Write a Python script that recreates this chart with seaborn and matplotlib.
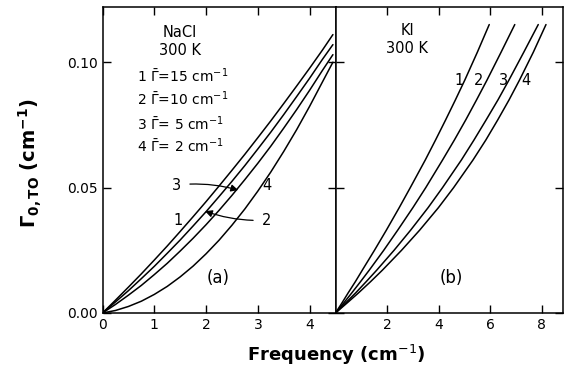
import pandas as pd
import matplotlib.pyplot as plt
import seaborn as sns

# NaCl panel (a): frequency grid and Gamma_0,TO for the four damping values
nacl_freq = [0, 0.25, 0.5, 0.75, 1.0, 1.25, 1.5, 1.75, 2.0, 2.25, 2.5,
             2.75, 3.0, 3.25, 3.5, 3.75, 4.0, 4.25, 4.45]
nacl_g15 = [0, 0.0051, 0.0103, 0.0156, 0.0211, 0.0267, 0.0325, 0.0384, 0.0444, 0.0506,
            0.0569, 0.0633, 0.0699, 0.0766, 0.0835, 0.0905, 0.0976, 0.1049, 0.111]
nacl_g10 = [0, 0.0044, 0.0089, 0.0137, 0.0186, 0.0238, 0.0291, 0.0347, 0.0404, 0.0464,
            0.0525, 0.0588, 0.0654, 0.0721, 0.0791, 0.0863, 0.0936, 0.1012, 0.107]
nacl_g5 = [0, 0.0034, 0.0071, 0.0110, 0.0153, 0.0198, 0.0247, 0.0298, 0.0352, 0.0409,
           0.0469, 0.0532, 0.0597, 0.0665, 0.0737, 0.0811, 0.0888, 0.0968, 0.103]
nacl_g2 = [0, 0.0010, 0.0026, 0.0047, 0.0074, 0.0106, 0.0144, 0.0187, 0.0236, 0.0290,
           0.0350, 0.0415, 0.0486, 0.0562, 0.0644, 0.0731, 0.0824, 0.0922, 0.100]

# KI panel (b): Gamma levels and the frequency where each curve reaches them
ki_gamma = [0, 0.004, 0.008, 0.0125, 0.0171, 0.025, 0.033, 0.042, 0.050,
            0.061, 0.069, 0.077, 0.085, 0.0928, 0.104, 0.115]
ki_f1 = [0, 0.25, 0.49, 0.77, 1.04, 1.51, 1.97, 2.47, 2.90,
         3.48, 3.88, 4.27, 4.65, 5.01, 5.50, 5.96]
ki_f2 = [0, 0.32, 0.63, 0.97, 1.31, 1.87, 2.41, 3.00, 3.50,
         4.15, 4.61, 5.05, 5.47, 5.87, 6.42, 6.95]
ki_f3 = [0, 0.39, 0.78, 1.19, 1.60, 2.27, 2.91, 3.59, 4.15,
         4.88, 5.37, 5.84, 6.30, 6.72, 7.30, 7.86]
ki_f4 = [0, 0.45, 0.89, 1.36, 1.82, 2.56, 3.26, 3.99, 4.58,
         5.33, 5.83, 6.29, 6.73, 7.13, 7.67, 8.16]

curve_ids = ['1', '2', '3', '4']

nacl = pd.concat([pd.DataFrame({'freq': nacl_freq, 'gamma': g, 'curve': c})
                  for c, g in zip(curve_ids, [nacl_g15, nacl_g10, nacl_g5, nacl_g2])])
ki = pd.concat([pd.DataFrame({'freq': f, 'gamma': ki_gamma, 'curve': c})
                for c, f in zip(curve_ids, [ki_f1, ki_f2, ki_f3, ki_f4])])

sns.set_style('ticks')
plt.rcParams['font.family'] = ['DejaVu Sans']
plt.rcParams['mathtext.fontset'] = 'dejavusans'
plt.rcParams['text.color'] = 'black'
plt.rcParams['xtick.color'] = 'black'
plt.rcParams['ytick.color'] = 'black'

fig = plt.figure(figsize=(5.64, 3.72), dpi=100)
ax1 = fig.add_axes([102.5 / 564, 59 / 372, 233 / 564, 306 / 372])
ax2 = fig.add_axes([335.5 / 564, 59 / 372, 227 / 564, 306 / 372])

black = {c: 'black' for c in curve_ids}
sns.lineplot(data=nacl, x='freq', y='gamma', hue='curve', palette=black,
             estimator=None, legend=False, lw=1.1, ax=ax1)
sns.lineplot(data=ki, x='freq', y='gamma', hue='curve', palette=black,
             estimator=None, legend=False, lw=1.1, sort=False, ax=ax2)

for ax in (ax1, ax2):
    ax.set_ylim(0, 0.122)
    ax.set_yticks([0, 0.05, 0.10])
    ax.tick_params(direction='in', length=6, width=1, top=True, right=True,
                   labelsize=10, color='black', labelcolor='black')
    for s in ax.spines.values():
        s.set_linewidth(1.1)
        s.set_color('black')
    ax.set_xlabel('')
    ax.set_ylabel('')

ax1.set_xlim(0, 4.5)
ax1.set_xticks([0, 1, 2, 3, 4])
ax1.set_yticklabels(['0.00', '0.05', '0.10'])
ax2.set_xlim(0, 8.8)
ax2.set_xticks([2, 4, 6, 8])
ax2.set_yticklabels([])

# panel (a) annotations
ax1.text(1.5, 0.112, 'NaCl', ha='center', va='center', fontsize=10.5)
ax1.text(1.5, 0.1048, '300 K', ha='center', va='center', fontsize=10.5)
leg_lines = [r'1 $\bar{\Gamma}$=15 cm$^{-1}$', r'2 $\bar{\Gamma}$=10 cm$^{-1}$',
             r'3 $\bar{\Gamma}$= 5 cm$^{-1}$', r'4 $\bar{\Gamma}$= 2 cm$^{-1}$']
for txt, yy in zip(leg_lines, [0.0945, 0.0852, 0.0755, 0.0665]):
    ax1.text(0.66, yy, txt, ha='left', va='center', fontsize=10)
ax1.annotate('3', xy=(2.62, 0.049), xytext=(1.43, 0.051), ha='center', va='center',
             fontsize=10.5, arrowprops=dict(arrowstyle='-|>', color='black', lw=0.9,
                                            shrinkA=4, shrinkB=0,
                                            connectionstyle='arc3,rad=-0.1'))
ax1.text(3.17, 0.051, '4', ha='center', va='center', fontsize=10.5)
ax1.text(1.46, 0.037, '1', ha='center', va='center', fontsize=10.5)
ax1.annotate('2', xy=(1.98, 0.0406), xytext=(3.17, 0.037), ha='center', va='center',
             fontsize=10.5, arrowprops=dict(arrowstyle='-|>', color='black', lw=0.9,
                                            shrinkA=4, shrinkB=0,
                                            connectionstyle='arc3,rad=-0.1'))
ax1.text(2.24, 0.0138, '(a)', ha='center', va='center', fontsize=12)

# panel (b) annotations
ax2.text(2.78, 0.1127, 'KI', ha='center', va='center', fontsize=10.5)
ax2.text(2.78, 0.1055, '300 K', ha='center', va='center', fontsize=10.5)
for lab, xx in zip(curve_ids, [4.78, 5.53, 6.5, 7.38]):
    ax2.text(xx, 0.0928, lab, ha='center', va='center', fontsize=10.5)
ax2.text(4.5, 0.0138, '(b)', ha='center', va='center', fontsize=12)

fig.text(336 / 564, 17 / 372, r'Frequency (cm$^{-1}$)', ha='center', va='center',
         fontsize=13, fontweight='bold')
fig.text(30 / 564, 209 / 372, r'$\mathbf{\Gamma_{0,TO}}$ $\mathbf{(cm^{-1})}$',
         ha='center', va='center', rotation=90, fontsize=14)

fig.savefig('out.png', dpi=100)
